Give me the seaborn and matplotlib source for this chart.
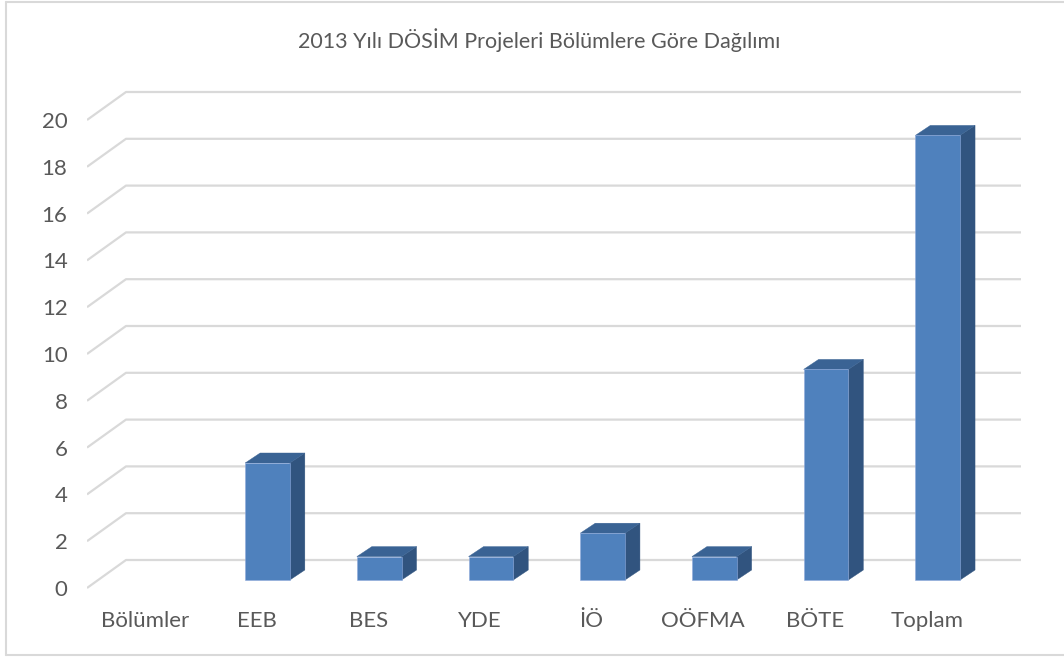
import matplotlib
matplotlib.use("Agg")
import matplotlib.pyplot as plt
import matplotlib.transforms as mtransforms
from matplotlib.lines import Line2D
from matplotlib.patches import Polygon
import numpy as np
import pandas as pd
import seaborn as sns

categories = ["Bölümler", "EEB", "BES", "YDE", "İÖ", "OÖFMA", "BÖTE", "Toplam"]
values = [0, 5, 1, 1, 2, 1, 9, 19]
y_ticks = [0, 2, 4, 6, 8, 10, 12, 14, 16, 18, 20]
title = "2013 Yılı DÖSİM Projeleri Bölümlere Göre Dağılımı"

W, H = 1064, 657
sns.set_theme(style="white")
plt.rcParams["font.family"] = ["Lato", "DejaVu Sans"]

fig = plt.figure(figsize=(W / 100, H / 100), dpi=100)

# axes placed in pixel terms
L, R, T, B = 87, 1021, 80, 590
ax = fig.add_axes([L / W, (H - B) / H, (R - L) / W, (B - T) / H])

# pixel scales
x0_px, step_px = 155.8, 111.7     # centre of first bar, spacing
y0_px, unit_px = 580.0, 23.4      # bar base, px per unit

def px_x(p):
    return (p - x0_px) / step_px

def px_dy(d):
    return d / unit_px

xlim = (px_x(L), px_x(R))
ylim = ((y0_px - B) / unit_px, (y0_px - T) / unit_px)

df = pd.DataFrame({"Bölüm": categories, "Sayı": values})
sns.barplot(data=df, x="Bölüm", y="Sayı", color="#4F81BD", saturation=1,
            width=0.40, ax=ax, zorder=3, edgecolor="#8FAADC", linewidth=0.4)
ax.set_xlim(*xlim)
ax.set_ylim(*ylim)

grid_col = "#D9D9D9"
for v in y_ticks:
    xs = [xlim[0], px_x(126), xlim[1]]
    ys = [v - px_dy(8), v + px_dy(20), v + px_dy(20)]
    ax.plot(xs, ys, color=grid_col, lw=1.6, zorder=0, solid_capstyle="butt")

dx = 15 / step_px
dy = px_dy(10)
for bar in list(ax.patches):
    h = bar.get_height()
    if h <= 0:
        bar.set_visible(False)
        continue
    x, w = bar.get_x(), bar.get_width()
    side = Polygon([(x + w, 0), (x + w + dx, dy), (x + w + dx, h + dy), (x + w, h)],
                   closed=True, facecolor="#31547F", edgecolor="#31547F", lw=0.3, zorder=2)
    top = Polygon([(x, h), (x + dx, h + dy), (x + w + dx, h + dy), (x + w, h)],
                  closed=True, facecolor="#3A6394", edgecolor="#3A6394", lw=0.3, zorder=2)
    ax.add_patch(side)
    ax.add_patch(top)

for s in ax.spines.values():
    s.set_visible(False)
ax.set_xlabel("")
ax.set_ylabel("")

ax.set_yticks([v - px_dy(8) for v in y_ticks], [str(v) for v in y_ticks])
ax.tick_params(axis="y", length=0, pad=14, labelsize=16, labelcolor="#595959")
ax.tick_params(axis="x", length=0, pad=15, labelsize=16, labelcolor="#595959")
shift = mtransforms.ScaledTranslation(-11 / 100, 0, fig.dpi_scale_trans)
for lab in ax.get_xticklabels():
    lab.set_transform(lab.get_transform() + shift)

fig.text(539 / W, 1 - 40 / H, title, ha="center", va="center",
         fontsize=15.5, color="#595959")

# chart frame: left, top and bottom edges (right edge is cut off)
fx0, fy_top, fy_bot = 6 / W, 1 - 1.5 / H, 1 - 654.5 / H
for xs, ys in [([fx0, fx0], [fy_bot, fy_top]),
               ([fx0, 1], [fy_top, fy_top]),
               ([fx0, 1], [fy_bot, fy_bot])]:
    fig.lines.append(Line2D(xs, ys, transform=fig.transFigure,
                            color="#D9D9D9", lw=1.5))

fig.savefig("out.png", dpi=100)
